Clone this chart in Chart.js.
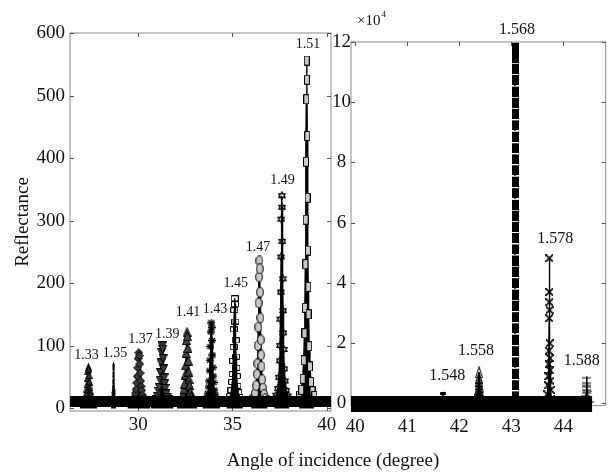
<!DOCTYPE html>
<html>
<head>
<meta charset="utf-8">
<script src="https://cdn.jsdelivr.net/npm/chart.js@4.4.1/dist/chart.umd.min.js"></script>
<style>
  body { margin: 0; background: #fff; overflow: hidden; }
  #wrap { position: relative; width: 611px; height: 475px; }
  #left { position: absolute; left: 0; top: 0; }
  #right { position: absolute; left: 331px; top: 0; }
  #xtitle { position: absolute; left: 0; width: 666px; top: 449px; text-align: center;
            font: 19px "Liberation Serif", "Times New Roman", serif; color: #111; white-space: nowrap; }
</style>
</head>
<body>
<div id="wrap">
  <canvas id="left" width="340" height="475"></canvas>
  <canvas id="right" width="280" height="475"></canvas>
  <div id="xtitle">Angle of incidence (degree)</div>
</div>
<script>
// axis ticks
const xTicksLeft = [30, 35, 40];
const yTicksLeft = [0, 100, 200, 300, 400, 500, 600];
const xTicksRight = [40, 41, 42, 43, 44];
const yTicksRight = [0, 2, 4, 6, 8, 10, 12];

// refractive index of each resonance
const namesLeft = ['1.33', '1.35', '1.37', '1.39', '1.41', '1.43', '1.45', '1.47', '1.49', '1.51'];
const namesRight = ['1.548', '1.558', '1.568', '1.578', '1.588'];

// left panel: angle (deg) / reflectance
const a133 = [26.891, 27.017, 27.109, 27.176, 27.222, 27.247, 27.275, 27.295, 27.315, 27.335, 27.36, 27.377, 27.397, 27.417, 27.438, 27.457, 27.478, 27.516, 27.562, 27.63, 27.722, 27.829];
const r133 = [9.3, 10.3, 12.2, 15.3, 19.9, 24.2, 31.5, 39.1, 48.9, 59.4, 66, 62.8, 53.2, 42.8, 33.9, 27.7, 23.1, 17.7, 14.3, 11.7, 10.1, 9.3];
const a135 = [28.556, 28.592, 28.618, 28.637, 28.651, 28.658, 28.666, 28.671, 28.677, 28.683, 28.69, 28.695, 28.701, 28.706, 28.712, 28.718, 28.724, 28.735, 28.748, 28.767, 28.793, 28.824];
const r135 = [9.4, 10.5, 12.5, 15.8, 20.7, 25.3, 33.2, 41.2, 51.7, 63, 70, 66.5, 56.4, 45.2, 35.7, 29.1, 24.1, 18.4, 14.7, 11.9, 10.2, 9.4];
const a137 = [29.427, 29.589, 29.707, 29.793, 29.853, 29.885, 29.921, 29.946, 29.972, 29.998, 30.03, 30.052, 30.078, 30.103, 30.13, 30.155, 30.182, 30.231, 30.289, 30.377, 30.495, 30.633];
const r137 = [9.8, 11.2, 13.8, 18.2, 24.6, 30.6, 40.9, 51.4, 65.1, 79.8, 89, 84.5, 71.2, 56.6, 44.1, 35.5, 29.1, 21.5, 16.7, 13.1, 10.9, 9.8];
const a139 = [30.667, 30.829, 30.947, 31.033, 31.093, 31.125, 31.161, 31.186, 31.212, 31.238, 31.27, 31.292, 31.318, 31.343, 31.37, 31.395, 31.422, 31.471, 31.529, 31.617, 31.735, 31.873];
const r139 = [10, 11.7, 14.6, 19.6, 26.9, 33.7, 45.4, 57.3, 72.9, 89.6, 100, 94.8, 79.8, 63.2, 49, 39.3, 31.9, 23.4, 17.9, 13.8, 11.3, 10];
const a141 = [32.054, 32.198, 32.303, 32.38, 32.432, 32.461, 32.493, 32.516, 32.538, 32.561, 32.59, 32.609, 32.632, 32.655, 32.679, 32.701, 32.725, 32.768, 32.82, 32.899, 33.004, 33.126];
const r141 = [10.5, 12.6, 16.2, 22.4, 31.4, 39.8, 54.3, 69.1, 88.4, 109.1, 122, 115.6, 96.9, 76.4, 58.8, 46.8, 37.6, 27, 20.3, 15.2, 12.1, 10.5];
const a143 = [33.411, 33.537, 33.629, 33.696, 33.742, 33.767, 33.795, 33.815, 33.835, 33.855, 33.88, 33.897, 33.917, 33.937, 33.958, 33.977, 33.998, 34.036, 34.082, 34.15, 34.242, 34.349];
const r143 = [10.8, 13.2, 17.3, 24.3, 34.4, 44, 60.4, 77.1, 98.9, 122.4, 137, 129.8, 108.6, 85.4, 65.5, 51.9, 41.5, 29.5, 21.9, 16.1, 12.6, 10.8];
const a145 = [34.684, 34.801, 34.887, 34.949, 34.992, 35.015, 35.041, 35.06, 35.078, 35.097, 35.12, 35.136, 35.154, 35.173, 35.192, 35.21, 35.23, 35.265, 35.307, 35.371, 35.456, 35.556];
const r145 = [11.7, 14.7, 20.1, 29.2, 42.4, 54.9, 76.2, 98, 126.4, 157, 176, 166.6, 139, 108.8, 82.9, 65.1, 51.7, 36.1, 26.1, 18.6, 14, 11.7];
const a147 = [35.994, 36.111, 36.197, 36.259, 36.302, 36.325, 36.351, 36.37, 36.388, 36.407, 36.43, 36.446, 36.464, 36.483, 36.502, 36.52, 36.54, 36.575, 36.617, 36.681, 36.766, 36.866];
const r147 = [13, 17.1, 24.4, 36.7, 54.7, 71.6, 100.6, 130.2, 168.7, 210.2, 236, 223.2, 185.8, 144.8, 109.7, 85.5, 67.3, 46.1, 32.6, 22.4, 16.2, 13];
const a149 = [37.218, 37.326, 37.405, 37.462, 37.502, 37.523, 37.547, 37.564, 37.581, 37.599, 37.62, 37.635, 37.652, 37.669, 37.687, 37.703, 37.721, 37.754, 37.793, 37.852, 37.93, 38.022];
const r149 = [15.3, 21.3, 31.9, 49.8, 76.1, 100.6, 142.8, 186, 242.1, 302.5, 340, 321.4, 267, 207.2, 156.1, 120.9, 94.3, 63.4, 43.9, 28.9, 20, 15.3];
const a151 = [38.538, 38.646, 38.725, 38.782, 38.822, 38.843, 38.867, 38.884, 38.901, 38.919, 38.94, 38.955, 38.972, 38.989, 39.007, 39.023, 39.041, 39.074, 39.113, 39.172, 39.25, 39.342];
const r151 = [20.1, 29.9, 47.5, 77, 120.3, 160.9, 230.5, 301.7, 394.3, 494.1, 556, 525.3, 435.4, 336.8, 252.4, 194.3, 150.5, 99.5, 67.2, 42.5, 27.7, 20.1];

// right panel: angle (deg) / reflectance (x10^4)
const a1548 = [41.60, 41.66, 41.69, 41.72, 41.78];
const r1548 = [0.02, 0.12, 0.32, 0.12, 0.02];
const a1558 = [42.30, 42.33, 42.35, 42.36, 42.37, 42.375, 42.38, 42.385, 42.39, 42.40, 42.41, 42.43, 42.46];
const r1558 = [0.05, 0.15, 0.3, 0.45, 0.65, 0.85, 1.03, 0.75, 0.55, 0.4, 0.25, 0.12, 0.05];
const a1568 = [43.07, 43.07, 43.07, 43.07, 43.07, 43.07, 43.07, 43.07, 43.07, 43.07, 43.07, 43.07, 43.07, 43.07, 43.07, 43.07,
               43.07, 43.07, 43.07, 43.07, 43.07, 43.07, 43.07, 43.07, 43.07, 43.07, 43.07, 43.07, 43.07, 43.07, 43.07, 43.07];
const r1568 = [0.25, 0.62, 1.0, 1.38, 1.75, 2.13, 2.51, 2.88, 3.26, 3.63, 4.01, 4.39, 4.76, 5.13, 5.51, 5.88,
               6.25, 6.61, 7.0, 7.38, 7.76, 8.12, 8.49, 8.87, 9.25, 9.63, 10.0, 10.37, 10.76, 11.13, 11.49, 11.83];
const a1578 = [43.66, 43.69, 43.705, 43.713, 43.718, 43.722, 43.727, 43.729, 43.73, 43.731, 43.733, 43.737, 43.741, 43.745, 43.75, 43.757, 43.77, 43.80];
const r1578 = [0.05, 0.3, 0.6, 0.9, 1.3, 1.75, 2.83, 3.36, 4.82, 3.7, 3.1, 2.0, 1.5, 1.1, 0.75, 0.45, 0.15, 0.05];
const a1588 = [44.40, 44.42, 44.43, 44.44, 44.443, 44.446, 44.448, 44.45, 44.452, 44.455, 44.465, 44.50];
const r1588 = [0.05, 0.15, 0.25, 0.35, 0.45, 0.55, 0.68, 0.85, 0.6, 0.4, 0.2, 0.05];

// off-resonance floor under every curve
const baseAngleLeft = [26.38, 40.23];
const baseReflLeft = [11, 11];
const baseAngleRight = [39.92, 44.55];
const baseReflRight = [-0.02, -0.02];

const SERIF = '"Liberation Serif", "Times New Roman", serif';
const INK = '#111';

// small bitmaps used as point markers (narrow, like the squeezed originals)
function makeMarker(shape, w, h, opt = {}) {
    const c = document.createElement('canvas');
    c.width = w; c.height = h;
    const g = c.getContext('2d');
    g.strokeStyle = '#000';
    g.lineWidth = opt.lw || 1;
    if (shape === 'block') {
        g.fillStyle = '#000';
        g.fillRect(0, 0, w, h);
        g.fillStyle = '#fff';
        g.fillRect(0, 0, w, 1);
        return c;
    }
    g.beginPath();
    if (shape === 'rect') {
        g.rect(0.5, 0.5, w - 1, h - 1);
    } else if (shape === 'tri') {
        g.moveTo(w / 2, 0.5); g.lineTo(w - 0.5, h - 0.5); g.lineTo(0.5, h - 0.5); g.closePath();
    } else if (shape === 'triDown') {
        g.moveTo(0.5, 0.5); g.lineTo(w - 0.5, 0.5); g.lineTo(w / 2, h - 0.5); g.closePath();
    } else if (shape === 'diamond') {
        g.moveTo(w / 2, 0.5); g.lineTo(w - 0.5, h / 2); g.lineTo(w / 2, h - 0.5); g.lineTo(0.5, h / 2); g.closePath();
    } else if (shape === 'ellipse') {
        g.ellipse(w / 2, h / 2, w / 2 - 0.7, h / 2 - 0.7, 0, 0, Math.PI * 2);
    } else if (shape === 'plus') {
        g.moveTo(w / 2, 0); g.lineTo(w / 2, h); g.moveTo(0, h / 2); g.lineTo(w, h / 2);
    } else if (shape === 'x') {
        g.moveTo(0, 0); g.lineTo(w, h); g.moveTo(w, 0); g.lineTo(0, h);
    } else if (shape === 'asterisk') {
        g.moveTo(w / 2, 0); g.lineTo(w / 2, h); g.moveTo(0, h / 2); g.lineTo(w, h / 2);
        g.moveTo(1, 1); g.lineTo(w - 1, h - 1); g.moveTo(w - 1, 1); g.lineTo(1, h - 1);
    } else if (shape === 'hexagram') {
        g.moveTo(w / 2, 0.5); g.lineTo(w - 0.5, h * 0.72); g.lineTo(0.5, h * 0.72); g.closePath();
        g.moveTo(w / 2, h - 0.5); g.lineTo(w - 0.5, h * 0.28); g.lineTo(0.5, h * 0.28); g.closePath();
    }
    if (opt.fill) { g.fillStyle = opt.fill; g.fill(); }
    g.stroke();
    return c;
}

const markersLeft = [
    makeMarker('tri', 7, 8, { fill: '#333' }),
    makeMarker('plus', 3, 6),
    makeMarker('diamond', 9, 9, { fill: '#3a3a3a' }),
    makeMarker('triDown', 9, 9, { fill: '#3a3a3a' }),
    makeMarker('tri', 9, 10, { fill: '#444' }),
    makeMarker('asterisk', 8, 7, { lw: 1.3 }),
    makeMarker('rect', 8, 6),
    makeMarker('ellipse', 8, 11, { fill: '#c8c8c8' }),
    makeMarker('hexagram', 8, 9, { fill: '#555' }),
    makeMarker('rect', 6, 10, { fill: '#c8c8c8' }),
];
const markersRight = [
    makeMarker('rect', 6, 3, { fill: '#000' }),
    makeMarker('tri', 8, 12),
    makeMarker('block', 7, 11),
    makeMarker('x', 8, 8, { lw: 1.6 }),
    makeMarker('plus', 9, 4),
];
// the 1.568 column is drawn from its square markers alone
const solidUnderRight = [true, true, false, true, true];

// label offsets (px) from each peak's highest point
const labelDxLeft = [-2, 1.5, 1.7, 5, 1, 3.7, 1, -1.4, 0.7, 1.3];
const labelDyLeft = [-12, -11.5, -13.5, -12, -19.5, -13.7, -15, -13.5, -15.7, -16];
const labelDxRight = [4, -3, 2, 6, -5];
const labelDyRight = [-17.7, -21.6, -17, -19, -17];

const pairs = (xs, ys) => xs.map((x, i) => ({ x: x, y: ys[i] }));

function peakDataset(name, xs, ys, marker, dx, dy, solid) {
    return {
        label: name,
        data: pairs(xs, ys),
        showLine: true,
        borderColor: '#000',
        borderWidth: 1.4,
        fill: solid ? 'origin' : false,
        backgroundColor: '#000',
        pointStyle: marker,
        pointRadius: 4,
        labelDx: dx,
        labelDy: dy,
    };
}

function baseDataset(xs, ys, width) {
    return {
        label: 'floor',
        data: pairs(xs, ys),
        showLine: true,
        borderColor: '#000',
        borderWidth: width,
        borderCapStyle: 'butt',
        pointRadius: 0,
        clip: false,
    };
}

// grey box with inward ticks on all four sides
const framePlugin = {
    id: 'frame',
    beforeDatasetsDraw(chart) {
        const { ctx, chartArea: a, scales } = chart;
        ctx.save();
        ctx.strokeStyle = '#9e9e9e';
        ctx.lineWidth = 1.2;
        ctx.strokeRect(a.left, a.top, a.right - a.left, a.bottom - a.top);
        ctx.strokeStyle = '#555';
        ctx.lineWidth = 1;
        ctx.beginPath();
        scales.x.ticks.forEach(t => {
            const px = Math.round(scales.x.getPixelForValue(t.value)) + 0.5;
            ctx.moveTo(px, a.top); ctx.lineTo(px, a.top + 4);
            ctx.moveTo(px, a.bottom); ctx.lineTo(px, a.bottom - 4);
        });
        scales.y.ticks.forEach(t => {
            const py = Math.round(scales.y.getPixelForValue(t.value)) + 0.5;
            ctx.moveTo(a.left, py); ctx.lineTo(a.left + 4, py);
            ctx.moveTo(a.right, py); ctx.lineTo(a.right - 4, py);
        });
        ctx.stroke();
        ctx.restore();
    },
};

// index labels above each peak
const peakLabelPlugin = {
    id: 'peakLabels',
    afterDatasetsDraw(chart, args, opts) {
        const ctx = chart.ctx;
        ctx.save();
        ctx.font = `${opts.size}px ${SERIF}`;
        ctx.fillStyle = INK;
        ctx.textAlign = 'center';
        ctx.textBaseline = 'middle';
        chart.data.datasets.forEach((ds, i) => {
            if (ds.labelDx === undefined) return;
            const pts = chart.getDatasetMeta(i).data;
            let top = pts[0];
            pts.forEach(p => { if (p.y < top.y) top = p; });
            ctx.fillText(ds.label, top.x + ds.labelDx, top.y + ds.labelDy);
        });
        if (opts.exponent) {
            const a = chart.chartArea;
            ctx.textAlign = 'left';
            ctx.font = `15px ${SERIF}`;
            ctx.fillText('\u00d710', a.left + 6, a.top - 21);
            const w = ctx.measureText('\u00d710').width;
            ctx.font = `9px ${SERIF}`;
            ctx.fillText('4', a.left + 7 + w, a.top - 27);
        }
        ctx.restore();
    },
};

function tickFont() {
    return { family: SERIF, size: 19 };
}

function panel(canvasId, cfg) {
    return new Chart(document.getElementById(canvasId), {
        type: 'scatter',
        data: { datasets: cfg.datasets },
        options: {
            responsive: false,
            animation: false,
            events: [],
            layout: { padding: cfg.padding },
            plugins: {
                legend: { display: false },
                tooltip: { enabled: false },
                filler: { propagate: false },
                peakLabels: { size: cfg.labelSize, exponent: cfg.exponent },
            },
            scales: {
                x: {
                    type: 'linear',
                    min: cfg.xMin, max: cfg.xMax,
                    grid: { display: false, drawTicks: false },
                    border: { display: false },
                    afterBuildTicks: s => { s.ticks = cfg.xTicks.map(v => ({ value: v })); },
                    afterFit: s => { s.height = cfg.xHeight; },
                    ticks: { font: tickFont(), color: INK, padding: cfg.xPad, maxRotation: 0, autoSkip: false,
                             callback: v => String(v) },
                },
                y: {
                    type: 'linear',
                    min: cfg.yMin, max: cfg.yMax,
                    grid: { display: false, drawTicks: false },
                    border: { display: false },
                    afterBuildTicks: s => { s.ticks = cfg.yTicks.map(v => ({ value: v })); },
                    afterFit: s => { s.width = cfg.yWidth; },
                    ticks: { font: tickFont(), color: INK, padding: cfg.yPad, crossAlign: cfg.yAlign,
                             autoSkip: false, callback: v => String(v) },
                    title: cfg.yTitle,
                },
            },
        },
        plugins: [framePlugin, peakLabelPlugin],
    });
}

const seriesLeft = [[a133, r133], [a135, r135], [a137, r137], [a139, r139], [a141, r141],
                    [a143, r143], [a145, r145], [a147, r147], [a149, r149], [a151, r151]];
const seriesRight = [[a1548, r1548], [a1558, r1558], [a1568, r1568], [a1578, r1578], [a1588, r1588]];

panel('left', {
    datasets: [baseDataset(baseAngleLeft, baseReflLeft, 11)].concat(
        seriesLeft.map((s, i) => peakDataset(namesLeft[i], s[0], s[1], markersLeft[i],
                                             labelDxLeft[i], labelDyLeft[i], true))),
    padding: { top: 33, right: 9, left: 0, bottom: 0 },
    xMin: 26.38, xMax: 40.23, yMin: -4, yMax: 600,
    xTicks: xTicksLeft, yTicks: yTicksLeft,
    xHeight: 64, xPad: 3, yWidth: 70, yPad: 5, yAlign: 'near',
    yTitle: { display: true, text: 'Reflectance', font: { family: SERIF, size: 19 }, color: INK,
              padding: { top: 12, bottom: 0 } },
    labelSize: 14,
});

panel('right', {
    datasets: [baseDataset(baseAngleRight, baseReflRight, 16)].concat(
        seriesRight.map((s, i) => peakDataset(namesRight[i], s[0], s[1], markersRight[i],
                                              labelDxRight[i], labelDyRight[i], solidUnderRight[i]))),
    padding: { top: 42, right: 4.5, left: 0, bottom: 0 },
    xMin: 39.92, xMax: 44.81, yMin: -0.07, yMax: 12,
    xTicks: xTicksRight, yTicks: yTicksRight,
    xHeight: 69.5, xPad: 10, yWidth: 20, yPad: 0, yAlign: 'center',
    yTitle: { display: false },
    labelSize: 16,
    exponent: true,
});
</script>
</body>
</html>
